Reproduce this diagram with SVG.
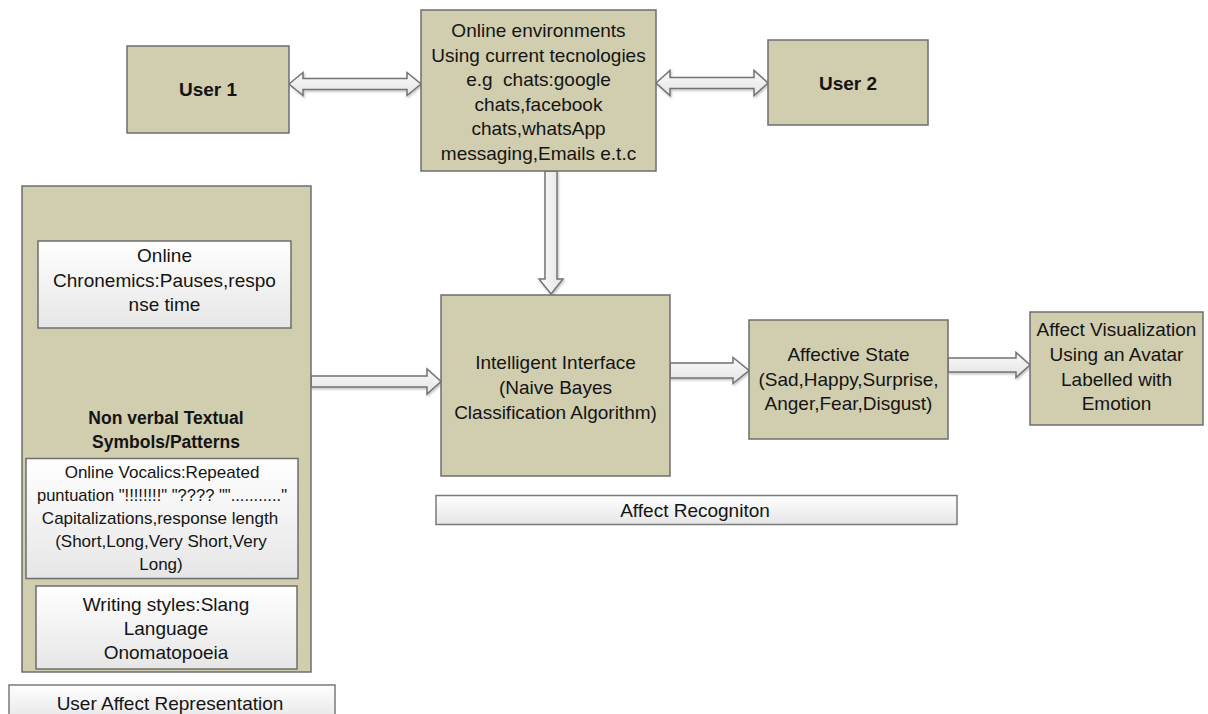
<svg xmlns="http://www.w3.org/2000/svg" width="1208" height="714" viewBox="0 0 1208 714">
<defs>
<linearGradient id="gW" x1="0" y1="0" x2="0" y2="1"><stop offset="0" stop-color="#ffffff"/><stop offset="1" stop-color="#e6e6e6"/></linearGradient>
<linearGradient id="gA" x1="0" y1="0" x2="0" y2="1"><stop offset="0" stop-color="#fafafa"/><stop offset="1" stop-color="#e4e4e4"/></linearGradient>
<linearGradient id="gV" x1="0" y1="0" x2="1" y2="0"><stop offset="0" stop-color="#fafafa"/><stop offset="1" stop-color="#e4e4e4"/></linearGradient>
<filter id="sh" x="-10%" y="-30%" width="120%" height="160%"><feDropShadow dx="1" dy="1.5" stdDeviation="1" flood-color="#000" flood-opacity="0.25"/></filter>
</defs>
<style>
text{font-family:"Liberation Sans",Arial,sans-serif;fill:#141414;text-anchor:middle;font-size:19px}
.b{font-weight:bold}
.tan{fill:#d1cdaf;stroke:#6e6e6e;stroke-width:1.5}
.wb{fill:url(#gW);stroke:#6e6e6e;stroke-width:1.5}
.lbl{fill:url(#gW);stroke:#7a7a7a;stroke-width:1.5}
.arr{fill:url(#gA);stroke:#737373;stroke-width:1.5;stroke-linejoin:miter;filter:url(#sh)}
.arrv{fill:url(#gV);stroke:#737373;stroke-width:1.5;filter:url(#sh)}
.s17{font-size:17px}
</style>
<rect width="1208" height="714" fill="#ffffff"/>

<g id="connectors">
<polygon class="arr" points="289,84 303,72.5 303,78.5 407,78.5 407,72.5 421,84 407,95.5 407,89.5 303,89.5 303,95.5"/>
<polygon class="arr" points="656,83 670,70.5 670,77.5 754,77.5 754,70.5 768,83 754,95.5 754,88.5 670,88.5 670,95.5"/>
<polygon class="arrv" points="545,171 557,171 557,279 563,279 551,294 539,279 545,279"/>
<polygon class="arr" points="311,376 427,376 427,369 441,381.5 427,394 427,387 311,387"/>
<polygon class="arr" points="670,363 733,363 733,357.5 749,370.5 733,383.5 733,378 670,378"/>
<polygon class="arr" points="948,358 1016,358 1016,352.5 1030,365 1016,377.5 1016,372 948,372"/>
</g>

<g id="user1">
<rect class="tan" x="127" y="46" width="162" height="87"/>
<text class="b" x="208" y="96">User 1</text>
</g>

<g id="online-env">
<rect class="tan" x="421" y="10" width="235" height="161"/>
<text x="538.5" y="37">Online environments</text>
<text x="538.5" y="61.6">Using current tecnologies</text>
<text x="538.5" y="86.2" xml:space="preserve">e.g  chats:google</text>
<text x="538.5" y="110.8">chats,facebook</text>
<text x="538.5" y="135.4">chats,whatsApp</text>
<text x="538.5" y="160">messaging,Emails e.t.c</text>
</g>

<g id="user2">
<rect class="tan" x="768" y="40" width="160" height="85"/>
<text class="b" x="848" y="90">User 2</text>
</g>

<g id="user-affect">
<rect class="tan" x="22" y="186" width="289" height="486"/>
<g id="chronemics">
<rect class="wb" x="38" y="241" width="253" height="87"/>
<text x="164.5" y="262">Online</text>
<text x="164.5" y="286.5">Chronemics:Pauses,respo</text>
<text x="164.5" y="311">nse time</text>
</g>
<text class="b" x="166" y="424" style="font-size:17.5px">Non verbal Textual</text>
<text class="b" x="166" y="448" style="font-size:17.5px">Symbols/Patterns</text>
<g id="vocalics">
<rect class="wb" x="26" y="458.5" width="272" height="120"/>
<text class="s17" x="162" y="478">Online Vocalics:Repeated</text>
<text class="s17" x="162" y="501" textLength="250" lengthAdjust="spacingAndGlyphs">puntuation "!!!!!!!!" "???? ""..........."</text>
<text class="s17" x="160" y="524">Capitalizations,response length</text>
<text class="s17" x="161" y="547">(Short,Long,Very Short,Very</text>
<text class="s17" x="161" y="570">Long)</text>
</g>
<g id="writing">
<rect class="wb" x="36" y="586" width="261" height="83"/>
<text x="166" y="611">Writing styles:Slang</text>
<text x="166" y="635">Language</text>
<text x="166" y="659">Onomatopoeia</text>
</g>
</g>

<g id="user-affect-label">
<rect class="lbl" x="9" y="685" width="326" height="35"/>
<text x="170" y="709.5">User Affect Representation</text>
</g>

<g id="intelligent">
<rect class="tan" x="441" y="295" width="229" height="181"/>
<text x="555.5" y="369">Intelligent Interface</text>
<text x="555.5" y="394">(Naive Bayes</text>
<text x="555.5" y="419">Classification Algorithm)</text>
</g>

<g id="affect-recognition-label">
<rect class="lbl" x="436" y="495.5" width="521" height="29"/>
<text x="695" y="517">Affect Recogniton</text>
</g>

<g id="affective-state">
<rect class="tan" x="749" y="320" width="199" height="119"/>
<text x="848.5" y="361">Affective State</text>
<text x="848.5" y="386">(Sad,Happy,Surprise,</text>
<text x="848.5" y="410">Anger,Fear,Disgust)</text>
</g>

<g id="affect-visualization">
<rect class="tan" x="1030" y="312" width="173" height="113"/>
<text x="1116.5" y="336">Affect Visualization</text>
<text x="1116.5" y="361">Using an Avatar</text>
<text x="1116.5" y="386">Labelled with</text>
<text x="1116.5" y="410">Emotion</text>
</g>
</svg>
